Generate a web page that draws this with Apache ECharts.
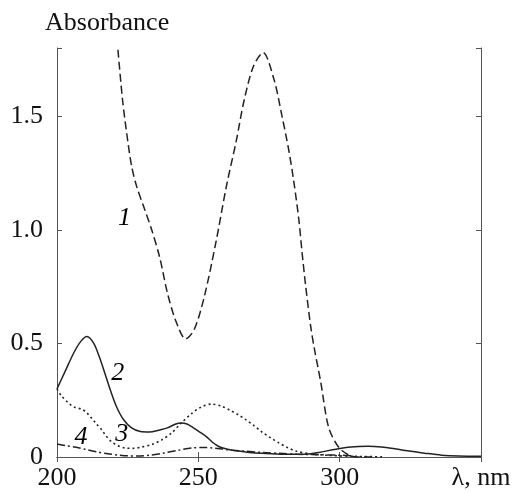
<!DOCTYPE html>
<html>
<head>
<meta charset="utf-8">
<script src="https://cdn.jsdelivr.net/npm/echarts@6/dist/echarts.min.js"></script>
<style>
  html, body { margin: 0; padding: 0; background: #fff; }
  #chart { width: 516px; height: 493px; }
</style>
</head>
<body>
<div id="chart"></div>
<script>
// absorbance spectra, [wavelength nm, absorbance]
const curve1 = [
  [220.5, 1.95], [221.5, 1.80], [223.2, 1.57], [224.6, 1.43], [226.4, 1.28],
  [228.2, 1.19], [231, 1.09], [233.5, 1.0], [236.3, 0.88], [239.1, 0.72],
  [242, 0.60], [245.5, 0.52], [248.5, 0.56], [252, 0.70], [256.3, 0.95],
  [259.9, 1.19], [263.4, 1.39], [266.2, 1.57], [269.5, 1.72], [272.9, 1.78],
  [276.8, 1.66], [279.6, 1.50], [282, 1.35], [283.8, 1.21], [285.6, 1.04],
  [286.7, 0.90], [288, 0.75], [289.8, 0.57], [291, 0.48], [293.3, 0.33],
  [296.1, 0.13], [299.6, 0.044], [303, 0.01], [306, 0.0], [312, 0.0]
];
const curve2 = [
  [200, 0.30], [203, 0.38], [206, 0.46], [208.5, 0.51], [210.6, 0.53],
  [213, 0.50], [215, 0.44], [216.9, 0.37], [219, 0.29], [221.1, 0.22],
  [223.5, 0.165], [226.4, 0.128], [229.5, 0.112], [232.7, 0.11], [236, 0.118],
  [239, 0.128], [242, 0.145], [244, 0.15], [246, 0.145], [248, 0.13],
  [250.5, 0.11], [252.8, 0.09], [255, 0.065], [257.4, 0.045], [260, 0.035],
  [263.4, 0.027], [268, 0.02], [272.5, 0.016], [280, 0.012], [287, 0.012],
  [292.6, 0.02], [298, 0.033], [304, 0.044], [310, 0.047], [314.8, 0.044],
  [320, 0.035], [324, 0.027], [330, 0.017], [336, 0.008], [342, 0.004], [350, 0.003]
];
const curve3 = [
  [200, 0.30], [201.5, 0.27], [203.9, 0.24], [206, 0.22], [208.8, 0.21],
  [210.5, 0.195], [212.3, 0.17], [214, 0.145], [215.8, 0.12], [217.5, 0.09],
  [219.4, 0.066], [221.5, 0.05], [224, 0.04], [227, 0.038], [230, 0.044],
  [233.5, 0.055], [237, 0.075], [240.5, 0.105], [244, 0.15], [247.5, 0.19],
  [251, 0.22], [254.6, 0.233], [258, 0.225], [261, 0.207], [264, 0.187],
  [266.9, 0.163], [269.5, 0.14], [272.5, 0.11], [275.5, 0.085], [278.5, 0.062],
  [281.5, 0.042], [284.5, 0.026], [289, 0.015], [295, 0.008], [305, 0.003], [315, 0.001]
];
const curve4 = [
  [200, 0.057], [203, 0.05], [206.3, 0.044], [210, 0.034], [214.4, 0.022],
  [218, 0.014], [221.5, 0.009], [225, 0.005], [228.5, 0.004], [233, 0.008],
  [238, 0.018], [243, 0.03], [248, 0.04], [252, 0.042], [255, 0.04],
  [258.5, 0.035], [262, 0.03], [266, 0.026], [270.4, 0.022], [274.5, 0.019],
  [278.5, 0.016], [285, 0.012], [292, 0.01], [300, 0.008], [305, 0.005]
];
// curve numbers placed in data coordinates
const curveLabels = [
  [223.9, 1.05, '1'],
  [221.5, 0.37, '2'],
  [222.9, 0.10, '3'],
  [208.5, 0.088, '4']
];
const xTicks = { min: 200, max: 350, step: 50, lastLabel: 'λ, nm' };
const yTicks = { min: 0, max: 1.8, step: 0.5 };

const chart = echarts.init(document.getElementById('chart'));

const font = "'Liberation Serif', 'Times New Roman', serif";
const ink = '#222';
const frame = '#555';

const lineItem = {
  type: 'line',
  showSymbol: false,
  smooth: 0.3,
  silent: true,
  clip: true
};

const axisCommon = {
  axisLine: { show: true, lineStyle: { color: frame, width: 1 } },
  axisTick: { show: true, inside: true, length: 5, lineStyle: { color: frame } },
  splitLine: { show: false }
};

chart.setOption({
  animation: false,
  grid: { left: 57, right: 35, top: 48, bottom: 36 },
  graphic: [
    {
      type: 'text',
      left: 45,
      top: 10,
      style: { text: 'Absorbance', font: '26px ' + font, fill: '#111' }
    }
  ],
  xAxis: [
    {
      type: 'value',
      min: xTicks.min,
      max: xTicks.max,
      interval: xTicks.step,
      ...axisCommon,
      axisLabel: {
        margin: 8,
        fontSize: 26,
        fontFamily: font,
        color: '#111',
        formatter: v => (v === xTicks.max ? xTicks.lastLabel : String(v))
      }
    },
    {
      type: 'value',
      position: 'top',
      min: xTicks.min,
      max: xTicks.max,
      interval: xTicks.step,
      ...axisCommon,
      axisLabel: { show: false }
    }
  ],
  yAxis: [
    {
      type: 'value',
      min: yTicks.min,
      max: yTicks.max,
      interval: yTicks.step,
      ...axisCommon,
      axisLabel: {
        margin: 14,
        fontSize: 26,
        fontFamily: font,
        color: '#111',
        formatter: v => (v > 1.6 ? '' : v === 0 ? '0' : v.toFixed(1))
      }
    },
    {
      type: 'value',
      position: 'right',
      min: yTicks.min,
      max: yTicks.max,
      interval: yTicks.step,
      ...axisCommon,
      axisLabel: { show: false }
    }
  ],
  series: [
    {
      name: '1',
      data: curve1,
      ...lineItem,
      lineStyle: { color: ink, width: 1.5, type: [8, 4] }
    },
    {
      name: '2',
      data: curve2,
      ...lineItem,
      lineStyle: { color: ink, width: 1.5, type: 'solid' }
    },
    {
      name: '3',
      data: curve3,
      ...lineItem,
      lineStyle: { color: ink, width: 1.6, type: [2, 3] }
    },
    {
      name: '4',
      data: curve4,
      ...lineItem,
      lineStyle: { color: ink, width: 1.5, type: [8, 3, 2, 3] }
    },
    {
      name: 'labels',
      type: 'scatter',
      symbolSize: 0,
      silent: true,
      itemStyle: { opacity: 1 },
      data: curveLabels,
      label: {
        show: true,
        position: 'inside',
        formatter: p => p.data[2],
        fontSize: 26,
        fontStyle: 'italic',
        fontFamily: font,
        color: '#000',
        opacity: 1
      }
    }
  ]
});
</script>
</body>
</html>
